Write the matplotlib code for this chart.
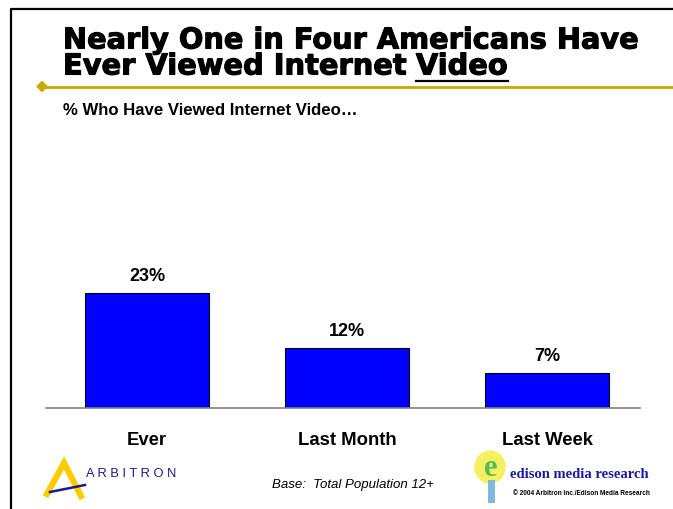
import matplotlib.pyplot as plt
import matplotlib.patheffects as pe
from matplotlib.patches import Polygon, Ellipse
from matplotlib.lines import Line2D

categories = ['Ever', 'Last Month', 'Last Week']
values = [23, 12, 7]
value_labels = ['23%', '12%', '7%']

W, H = 673, 510
fig = plt.figure(figsize=(W / 100, H / 100), dpi=100)
fig.patch.set_facecolor('white')
renderer = fig.canvas.get_renderer()
SANS = ['Liberation Sans', 'DejaVu Sans']


def fx(x):
    return x / W


def fy(y):
    return 1 - y / H


def fit_text(x, y, s, width, **kw):
    # place text, then rescale its size so it spans `width` pixels
    t = fig.text(fx(x), fy(y), s, **kw)
    w = t.get_window_extent(renderer).width
    t.set_fontsize(t.get_fontsize() * width / w)
    return t


# slide frame
fig.add_artist(Line2D([fx(11), fx(11), fx(673)], [fy(510), fy(10), fy(10)],
                      color='black', lw=1.6))

# title in a wide bold face, stroked a little heavier
heavy = [pe.withStroke(linewidth=0.8, foreground='black')]
title_kw = dict(fontsize=24, fontweight='bold', family='DejaVu Sans', color='black',
                va='baseline', ha='left', path_effects=heavy)
fit_text(63, 49.5, 'Nearly One in Four Americans Have', 576, **title_kw)
line2 = fit_text(63, 75.5, 'Ever Viewed Internet Video', 446, **title_kw)
title_kw['fontsize'] = line2.get_fontsize()
line2.set_text('Ever Viewed Internet ')
x_video = 63 + line2.get_window_extent(renderer).width
t3 = fig.text(fx(x_video), fy(75.5), 'Video', **title_kw)
w_video = t3.get_window_extent(renderer).width
fig.add_artist(Line2D([fx(x_video), fx(x_video + w_video)], [fy(82), fy(82)],
                      color='black', lw=1.6))

# gold rule with diamond
gold = '#C9A800'
fig.add_artist(Line2D([fx(42), fx(673)], [fy(87.5), fy(87.5)], color=gold, lw=2))
fig.add_artist(Polygon([(fx(37), fy(87.5)), (fx(42), fy(82.5)), (fx(47), fy(87.5)),
                        (fx(42), fy(92.5))], closed=True, color=gold,
                       transform=fig.transFigure))

fit_text(63, 115, '% Who Have Viewed Internet Video\u2026', 295, fontsize=10,
         fontweight='bold', family=SANS, va='baseline')

# bar chart
ax = fig.add_axes([fx(46), fy(409), fx(640) - fx(46), (409 - 130) / H])
x = range(len(categories))
bars = ax.bar(x, values, width=0.62, color='#0000FF', edgecolor='black', linewidth=0.8)
ax.set_xlim(-0.505, 2.465)
ax.set_ylim(0, 279 / 5)
for b, lab in zip(bars, value_labels):
    ax.annotate(lab, (b.get_x() + b.get_width() / 2, b.get_height()),
                xytext=(0, 12.5), textcoords='offset points', ha='center', va='center',
                fontsize=13, fontweight='bold', family=SANS)
ax.set_xticks(list(x))
ax.set_xticklabels(categories, fontsize=13.3, fontweight='bold', family=SANS)
ax.tick_params(axis='x', length=0, pad=16.5)
ax.set_yticks([])
for s in ['top', 'right', 'left']:
    ax.spines[s].set_visible(False)
ax.spines['bottom'].set_color('#808080')
ax.spines['bottom'].set_linewidth(1.2)
ax.patch.set_alpha(0)

# footnote
fig.text(fx(272), fy(488), 'Base:  Total Population 12+', fontsize=9.5, style='italic',
         family=SANS, va='baseline')

# Arbitron mark
yellow = '#FFCC00'
fig.add_artist(Line2D([fx(47), fx(64), fx(81)], [fy(495), fy(464), fy(497)],
                      color=yellow, lw=4.5, solid_joinstyle='miter'))
fig.add_artist(Line2D([fx(50), fx(85)], [fy(493), fy(486)], color='#1a1a8c', lw=1.8))
fig.text(fx(86), fy(477), 'A R B I T R O N', fontsize=9.3, color='#1a1a8c',
         family=SANS, va='baseline')

# Edison mark
fig.add_artist(Ellipse((fx(490), fy(468)), fx(30), 32 / H, color='#F5F060',
                       transform=fig.transFigure))
fig.text(fx(491), fy(469), 'e', fontsize=22, color='#5BB85B', ha='center', va='center',
         family='Liberation Serif', fontweight='bold')
fig.add_artist(Line2D([fx(491), fx(491)], [fy(484), fy(500)], color='#7FB8D8', lw=5))
fig.text(fx(510), fy(478), 'edison media research', fontsize=10.5, color='#1a1aa0',
         family='Liberation Serif', fontweight='bold', va='baseline')
fit_text(513, 495, '\u00a9 2004 Arbitron Inc./Edison Media Research', 137, fontsize=4.5,
         fontweight='bold', family=SANS, va='baseline')

fig.savefig('out.png', dpi=100)
